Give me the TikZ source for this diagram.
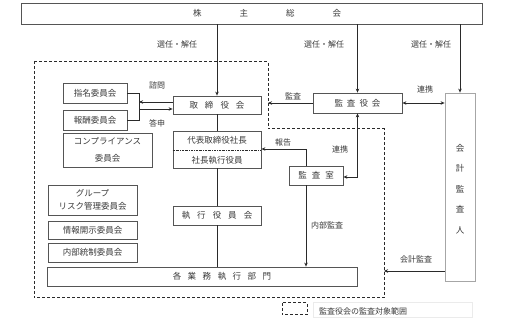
\documentclass[tikz,border=0pt]{standalone}
\usepackage{fontspec}
\setmainfont{Noto Sans CJK JP}
\usetikzlibrary{arrows.meta}
\definecolor{txt}{HTML}{3A3A3A}
\definecolor{ln}{HTML}{2A2A2A}
\definecolor{bx}{HTML}{555555}
\newcommand{\jgap}[1]{\hspace{#1pt}}
\begin{document}
\begin{tikzpicture}[x=1pt,y=-1pt,
  box/.style={draw=bx,line width=0.8pt,rectangle,inner sep=0pt,text=txt,font=\fontsize{8.5}{10}\selectfont},
  lbl/.style={text=txt,font=\fontsize{8}{9.5}\selectfont,inner sep=0pt},
  ln/.style={draw=ln,line width=0.8pt},
  arr/.style={ln,-{Stealth[length=4pt,width=3.5pt]}},
  darr/.style={ln,{Stealth[length=4pt,width=3.5pt]}-{Stealth[length=4pt,width=3.5pt]}},
  scope/.style={draw=ln,line width=1pt,dash pattern=on 3pt off 2pt}
]
\useasboundingbox (0,0) rectangle (530,336);
\fill[white] (0,0) rectangle (530,336);

% nodes
\node[box,minimum width=461pt,minimum height=21pt] (soukai) at (251.5,13.5) {};
\node[txt,font=\fontsize{8.5}{10}\selectfont,text=txt] (soukaiT) at (267,13.5) {株\jgap{38}主\jgap{38}総\jgap{38}会};
\node[box,minimum width=88pt,minimum height=18pt] (tori) at (217,105) {取\jgap{7}締\jgap{7}役\jgap{7}会};
\node[box,minimum width=64pt,minimum height=20pt] (shimei) at (95,93) {指名委員会};
\node[box,minimum width=64pt,minimum height=20pt] (hoshu) at (95,120) {報酬委員会};
\node[box,minimum width=89pt,minimum height=34pt,align=center,font=\fontsize{8.5}{17}\selectfont] (comp) at (107.5,150) {コンプライアンス\\委員会};
\node[box,minimum width=88pt,minimum height=37pt] (daihyo) at (217,149.5) {};
\node[lbl,font=\fontsize{8.5}{10}\selectfont] (daihyoA) at (217,140.5) {代表取締役社長};
\node[lbl,font=\fontsize{8.5}{10}\selectfont] (daihyoB) at (217,160) {社長執行役員};
\node[box,minimum width=89pt,minimum height=30pt,align=center,font=\fontsize{8.5}{13}\selectfont] (group) at (92.5,200) {グループ\\リスク管理委員会};
\node[box,minimum width=89pt,minimum height=18pt] (joho) at (92.5,230) {情報開示委員会};
\node[box,minimum width=89pt,minimum height=19pt] (naibu) at (92.5,252.5) {内部統制委員会};
\node[box,minimum width=88pt,minimum height=19pt] (shikko) at (217,215.5) {執\jgap{7}行\jgap{7}役\jgap{7}員\jgap{7}会};
\node[box,minimum width=310pt,minimum height=19pt] (kaku) at (202,276.5) {};
\node[lbl,font=\fontsize{8.5}{10}\selectfont] (kakuT) at (222,276.5) {各\jgap{6.5}業\jgap{6.5}務\jgap{6.5}執\jgap{6.5}行\jgap{6.5}部\jgap{6.5}門};
\node[box,minimum width=89pt,minimum height=20pt] (kansayaku) at (357.5,103) {監\jgap{4}査\jgap{4}役\jgap{4}会};
\node[box,draw=black!35,minimum width=30pt,minimum height=188pt] (kaikei) at (460,187) {};
\node[lbl,align=center,font=\fontsize{8.5}{20.5}\selectfont] (kaikeiT) at (460,189) {会\\計\\監\\査\\人};
\node[box,minimum width=54pt,minimum height=19pt] (shitsu) at (316,175.5) {監\jgap{5}査\jgap{5}室};

% coordinates
\coordinate (cA) at (217,0);
\coordinate (cB) at (357.5,0);
\coordinate (cC) at (460,0);
\coordinate (brt) at (139,93);
\coordinate (brb) at (139,120);
\coordinate (a1) at (139,102);
\coordinate (a2) at (139,109);
\coordinate (kansaEnd) at (268,103);
\coordinate (renk) at (357.5,177);
\coordinate (hk) at (306,149);
\coordinate (kaikeiEnd) at (384,271);

% scope polygon
\draw[scope] (34,62) -- (268,62) -- (268,129) -- (384,129) -- (384,298) -- (34,298) -- cycle;

% connectors
\draw[arr] (soukai.south -| cA) -- (tori.north -| cA);
\draw[arr] (soukai.south -| cB) -- (kansayaku.north -| cB);
\draw[arr] (soukai.south -| cC) -- (kaikei.north -| cC);
\draw[ln] (shimei.east |- brt) -- (brt) -- (brb) -- (hoshu.east |- brb);
\draw[arr] (tori.west |- a1) -- (a1);
\draw[arr] (a2) -- (tori.west |- a2);
\draw[ln] (tori.south) -- (daihyo.north);
\draw[ln,dash pattern=on 2pt off 1pt on 0.6pt off 1pt,line width=0.6pt] (daihyo.west |- 0,150) -- (daihyo.east |- 0,150);
\draw[ln] (daihyo.south) -- (shikko.north);
\draw[ln] (shikko.south) -- (shikko.south |- kaku.north);
\draw[arr] (kansayaku.west) -- (kansaEnd);
\draw[darr] (kansayaku.east) -- (kaikei.west |- kansayaku.east);
\draw[darr] (kansayaku.south) -- (renk) -- (shitsu.east |- renk);
\draw[arr] (shitsu.north -| hk) -- (hk) -- (daihyo.east |- hk);
\draw[arr] (shitsu.south -| hk) -- (kaku.north -| hk);
\draw[arr] (kaikei.west |- kaikeiEnd) -- (kaikeiEnd);

% labels
\node[lbl] (l1) at (177,44) {選任・解任};
\node[lbl] (l2) at (324,44) {選任・解任};
\node[lbl] (l3) at (431,44) {選任・解任};
\node[lbl] (l4) at (157,85) {諮問};
\node[lbl] (l5) at (157,123) {答申};
\node[lbl] (l6) at (293,96) {監査};
\node[lbl] (l7) at (425,89) {連携};
\node[lbl] (l8) at (283,142) {報告};
\node[lbl] (l9) at (340,149) {連携};
\node[lbl] (l10) at (327,225) {内部監査};
\node[lbl] (l11) at (416,259) {会計監査};

% legend
\draw[black!8,line width=0.5pt] (313,302) rectangle (472,317);
\draw[scope] (282,303) rectangle (307,315);
\node[lbl,anchor=west] (leg) at (319,311) {監査役会の監査対象範囲};
\end{tikzpicture}
\end{document}
